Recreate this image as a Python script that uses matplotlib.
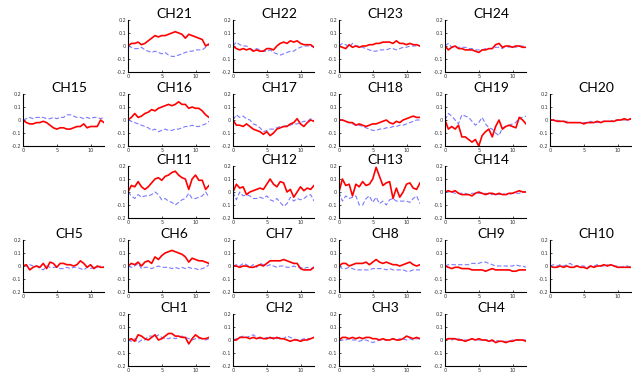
import numpy as np
import matplotlib
matplotlib.use("Agg")
import matplotlib.pyplot as plt

# ============================================ DATA ============================================
t = np.arange(0, 12.01, 0.5)  # cas [s], 25 vzorku

ch21_red = [0, 0.02, 0.02, 0.03, 0.01, 0.02, 0.04, 0.06, 0.08, 0.07, 0.08, 0.08, 0.09, 0.10, 0.11, 0.10, 0.09, 0.06, 0.09, 0.08, 0.07, 0.06, 0.05, 0.0, 0.015]
ch21_blue = [0, -0.01, -0.02, -0.02, -0.01, -0.03, -0.04, -0.05, -0.04, -0.05, -0.06, -0.05, -0.07, -0.08, -0.08, -0.07, -0.06, -0.05, -0.04, -0.04, -0.03, -0.03, -0.03, -0.01, 0.01]
ch22_red = [0, -0.02, -0.03, -0.02, -0.03, -0.02, -0.04, -0.03, -0.04, -0.04, -0.02, -0.02, -0.03, 0.0, 0.02, 0.03, 0.02, 0.04, 0.03, 0.04, 0.02, 0.01, 0.01, 0.01, -0.01]
ch22_blue = [0, 0.03, 0.01, 0.0, 0.0, -0.02, -0.03, -0.02, -0.03, -0.04, -0.04, -0.03, -0.05, -0.06, -0.07, -0.06, -0.05, -0.04, -0.04, -0.02, -0.01, 0.0, 0.0, 0.0, -0.01]
ch23_red = [0, -0.01, -0.02, 0.01, -0.01, 0.0, -0.01, 0.0, 0.0, 0.01, 0.01, 0.02, 0.02, 0.03, 0.03, 0.03, 0.02, 0.04, 0.02, 0.02, 0.01, 0.02, 0.01, 0.01, 0.0]
ch23_blue = [0, 0.02, 0.01, -0.01, 0.02, 0.0, 0.0, -0.01, -0.02, -0.03, -0.04, -0.04, -0.03, -0.03, -0.03, -0.02, -0.02, -0.03, -0.02, -0.01, -0.01, 0.0, 0.0, 0.0, 0.0]
ch24_red = [0, -0.03, -0.01, 0.0, -0.02, -0.02, -0.03, -0.03, -0.03, -0.04, -0.05, -0.03, -0.03, -0.02, -0.02, 0.01, 0.02, -0.01, 0.0, 0.0, -0.01, 0.0, 0.0, -0.01, -0.01]
ch24_blue = [0, 0.02, -0.01, -0.01, -0.01, -0.01, -0.01, -0.02, -0.02, -0.03, -0.03, -0.03, -0.02, -0.02, -0.02, -0.01, -0.01, -0.02, 0.0, -0.01, 0.0, -0.01, 0.0, 0.0, 0.0]

ch15_red = [0, -0.02, -0.03, -0.03, -0.02, -0.02, -0.01, -0.02, -0.04, -0.06, -0.07, -0.06, -0.06, -0.07, -0.07, -0.06, -0.05, -0.05, -0.03, -0.06, -0.05, -0.05, -0.05, 0.0, -0.02]
ch15_blue = [0, 0.01, 0.02, 0.01, 0.02, 0.02, 0.02, 0.01, 0.01, 0.02, 0.01, 0.02, 0.02, 0.04, 0.04, 0.03, 0.02, 0.02, 0.01, 0.02, 0.01, 0.02, 0.02, 0.01, 0.02]
ch16_red = [0, 0.02, 0.05, 0.02, 0.03, 0.05, 0.06, 0.08, 0.07, 0.09, 0.10, 0.11, 0.12, 0.11, 0.12, 0.14, 0.12, 0.12, 0.09, 0.10, 0.09, 0.09, 0.07, 0.04, 0.02]
ch16_blue = [0, -0.01, -0.02, -0.03, -0.04, -0.05, -0.06, -0.08, -0.07, -0.09, -0.08, -0.07, -0.08, -0.08, -0.07, -0.07, -0.06, -0.05, -0.05, -0.04, -0.05, -0.05, -0.04, -0.03, -0.01]
ch17_red = [0, -0.04, -0.04, -0.05, -0.03, -0.05, -0.07, -0.08, -0.09, -0.11, -0.09, -0.12, -0.10, -0.07, -0.06, -0.05, -0.05, -0.03, -0.02, 0.01, -0.03, -0.05, -0.02, 0.0, -0.01]
ch17_blue = [0, 0.04, 0.02, 0.03, 0.01, 0.0, -0.03, -0.04, -0.06, -0.09, -0.08, -0.07, -0.07, -0.06, -0.05, -0.05, -0.04, -0.04, -0.03, -0.03, -0.02, -0.01, -0.01, 0.01, -0.01]
ch18_red = [0, 0.0, -0.01, -0.02, -0.02, -0.04, -0.03, -0.04, -0.05, -0.04, -0.03, -0.03, -0.02, -0.01, 0.0, -0.02, -0.03, -0.01, -0.02, 0.0, 0.01, 0.02, 0.03, 0.02, 0.02]
ch18_blue = [0, 0.0, -0.01, -0.02, -0.03, -0.04, -0.04, -0.05, -0.06, -0.07, -0.08, -0.08, -0.07, -0.07, -0.06, -0.06, -0.05, -0.05, -0.04, -0.04, -0.03, -0.02, -0.01, 0.0, 0.0]
ch19_red = [0, -0.07, -0.05, -0.07, -0.04, -0.13, -0.13, -0.15, -0.17, -0.15, -0.20, -0.12, -0.09, -0.07, -0.13, -0.05, 0.0, -0.07, -0.05, -0.04, -0.05, -0.06, 0.02, 0.0, -0.03]
ch19_blue = [0, 0.05, 0.03, 0.0, -0.03, 0.04, 0.03, 0.02, -0.01, -0.04, -0.02, 0.02, -0.03, -0.06, -0.07, -0.10, -0.12, -0.06, -0.05, -0.04, -0.03, -0.02, 0.02, 0.02, 0.03]
ch20_red = [0, 0.0, -0.01, -0.01, -0.01, -0.02, -0.02, -0.02, -0.02, -0.02, -0.03, -0.02, -0.02, -0.02, -0.01, -0.02, -0.01, -0.01, -0.01, -0.01, 0.0, 0.0, 0.01, 0.0, 0.01]
ch20_blue = [0, 0.0, 0.0, -0.01, -0.01, -0.01, -0.02, -0.02, -0.02, -0.02, -0.02, -0.02, -0.01, -0.02, -0.02, -0.01, -0.01, -0.01, -0.01, 0.0, 0.0, 0.0, 0.0, 0.0, 0.01]

ch11_red = [0, 0.05, 0.04, 0.08, 0.04, 0.02, 0.04, 0.07, 0.10, 0.11, 0.09, 0.12, 0.13, 0.15, 0.16, 0.13, 0.11, 0.10, 0.02, 0.10, 0.13, 0.09, 0.09, 0.02, 0.05]
ch11_blue = [0, -0.03, -0.05, -0.02, -0.04, -0.03, -0.03, -0.02, 0.0, -0.02, -0.06, -0.05, -0.07, -0.08, -0.10, -0.08, -0.06, -0.05, -0.01, -0.05, -0.05, -0.04, -0.03, 0.0, -0.04]
ch12_red = [0, 0.06, 0.03, 0.04, -0.02, 0.0, 0.01, 0.02, 0.03, 0.02, 0.06, 0.10, 0.06, 0.04, 0.08, 0.07, 0.0, 0.02, -0.04, 0.0, 0.04, 0.01, 0.03, 0.02, 0.05]
ch12_blue = [0, -0.06, 0.0, -0.03, -0.02, -0.03, -0.05, -0.05, -0.04, -0.05, -0.03, -0.06, -0.07, -0.05, -0.08, -0.11, -0.09, -0.04, -0.07, -0.05, -0.06, -0.05, -0.03, -0.02, -0.07]
ch13_red = [0, 0.10, 0.05, 0.06, -0.03, 0.06, 0.04, 0.08, 0.05, 0.06, 0.10, 0.19, 0.12, 0.05, 0.07, 0.08, -0.05, 0.03, -0.04, 0.0, 0.06, 0.07, 0.03, 0.02, 0.07]
ch13_blue = [0, -0.07, -0.03, -0.05, -0.04, -0.03, -0.10, -0.10, -0.05, -0.03, -0.08, -0.04, -0.09, -0.07, -0.10, -0.06, -0.05, -0.07, -0.07, -0.07, -0.07, -0.08, -0.05, -0.03, -0.09]
ch14_red = [0, 0.01, 0.0, 0.01, -0.01, -0.02, -0.02, -0.02, -0.03, -0.01, 0.0, -0.01, -0.02, -0.01, -0.01, -0.02, -0.01, -0.02, -0.02, -0.01, -0.01, 0.0, 0.01, 0.0, 0.0]
ch14_blue = [0, 0.0, 0.0, -0.01, -0.01, -0.01, -0.01, -0.02, -0.01, -0.01, -0.01, -0.01, -0.01, -0.02, -0.02, -0.01, -0.02, -0.01, -0.02, -0.02, -0.01, -0.01, -0.01, 0.0, 0.0]

ch5_red = [0, 0.01, -0.03, -0.01, 0.0, -0.01, 0.02, -0.02, 0.03, 0.02, -0.01, 0.02, 0.02, 0.01, 0.01, 0.0, 0.01, 0.04, 0.02, -0.01, 0.01, -0.02, 0.0, -0.01, -0.01]
ch5_blue = [0, 0.0, 0.01, 0.0, 0.0, -0.02, -0.03, 0.0, -0.01, -0.01, -0.01, -0.02, -0.02, -0.01, -0.02, -0.01, -0.01, -0.02, -0.03, -0.01, -0.02, -0.01, -0.01, 0.0, -0.01]
ch6_red = [0, 0.02, 0.01, 0.03, 0.0, 0.03, 0.04, 0.02, 0.07, 0.05, 0.08, 0.10, 0.11, 0.12, 0.11, 0.10, 0.09, 0.07, 0.03, 0.06, 0.05, 0.04, 0.04, 0.03, 0.02]
ch6_blue = [0, -0.01, 0.0, 0.02, -0.02, -0.01, -0.01, -0.02, -0.01, 0.0, -0.01, -0.01, -0.01, -0.02, -0.01, -0.02, -0.01, -0.02, -0.01, -0.02, -0.02, -0.03, -0.02, -0.01, 0.01]
ch7_red = [0, 0.0, -0.01, 0.0, 0.0, -0.01, -0.01, 0.0, 0.01, 0.0, 0.02, 0.04, 0.04, 0.04, 0.04, 0.05, 0.04, 0.03, 0.02, 0.02, -0.02, -0.03, -0.03, -0.03, -0.01]
ch7_blue = [0, 0.01, 0.0, 0.02, 0.01, -0.01, 0.01, -0.01, 0.02, 0.01, 0.0, 0.01, 0.0, -0.01, 0.0, 0.0, -0.01, -0.01, 0.0, -0.01, -0.01, -0.02, -0.01, -0.02, -0.01]
ch8_red = [0, 0.02, 0.02, 0.0, 0.01, 0.02, 0.02, 0.02, 0.03, 0.01, 0.03, 0.05, 0.03, 0.02, 0.03, 0.02, 0.01, 0.01, 0.0, 0.01, 0.02, 0.03, 0.01, 0.0, 0.01]
ch8_blue = [0, -0.02, -0.02, -0.01, -0.02, -0.03, -0.03, -0.03, -0.03, -0.03, -0.02, -0.02, -0.02, -0.02, -0.03, -0.02, -0.03, -0.03, -0.03, -0.03, -0.04, -0.04, -0.03, -0.03, -0.03]
ch9_red = [0, -0.01, -0.02, -0.01, -0.01, -0.02, -0.02, -0.02, -0.03, -0.03, -0.03, -0.03, -0.04, -0.03, -0.02, -0.03, -0.03, -0.03, -0.03, -0.03, -0.04, -0.04, -0.03, -0.03, -0.03]
ch9_blue = [0, 0.01, 0.01, 0.01, 0.01, 0.01, 0.01, 0.01, 0.02, 0.02, 0.02, 0.03, 0.03, 0.02, 0.01, 0.0, 0.0, 0.0, 0.0, 0.0, 0.0, 0.01, 0.0, 0.0, -0.01]
ch10_red = [0, -0.01, -0.01, 0.0, -0.01, 0.0, -0.01, -0.01, 0.0, -0.01, -0.01, -0.02, 0.0, -0.01, 0.0, 0.0, 0.01, 0.0, 0.01, 0.0, -0.01, -0.01, -0.01, -0.01, -0.01]
ch10_blue = [0, 0.01, 0.0, 0.01, 0.0, 0.01, 0.02, 0.0, 0.0, 0.0, 0.0, -0.01, 0.0, 0.0, 0.01, 0.0, 0.0, 0.01, 0.0, 0.0, 0.0, -0.01, 0.0, 0.0, -0.01]

ch1_red = [0, 0.01, -0.01, 0.04, 0.03, 0.01, 0.0, 0.02, 0.04, 0.0, 0.01, 0.03, 0.05, 0.05, 0.03, 0.03, 0.02, 0.02, -0.03, 0.01, 0.04, 0.02, 0.01, 0.01, 0.02]
ch1_blue = [0, -0.01, 0.01, -0.02, 0.0, 0.0, 0.03, 0.03, 0.02, 0.04, 0.02, 0.01, 0.01, 0.02, 0.01, 0.02, 0.03, 0.02, 0.01, 0.0, 0.01, 0.01, 0.01, 0.0, 0.01]
ch2_red = [0, 0.0, 0.02, 0.02, 0.02, 0.01, 0.02, 0.01, 0.02, 0.01, 0.01, 0.02, 0.01, 0.02, 0.01, 0.01, 0.0, -0.01, 0.0, 0.0, -0.01, 0.0, 0.0, 0.01, 0.02]
ch2_blue = [0, 0.01, 0.02, 0.03, 0.02, 0.03, 0.04, 0.02, 0.01, 0.01, 0.02, 0.01, 0.02, 0.01, 0.02, 0.01, 0.03, 0.02, 0.01, 0.0, 0.0, 0.01, 0.01, 0.01, 0.02]
ch3_red = [0, 0.02, 0.02, 0.01, 0.02, 0.01, 0.02, 0.01, 0.02, 0.02, 0.01, 0.01, 0.0, 0.01, 0.0, 0.0, 0.01, 0.0, 0.0, 0.01, 0.03, 0.02, 0.01, 0.02, 0.01]
ch3_blue = [0, 0.0, 0.0, 0.01, 0.0, 0.0, -0.01, 0.0, 0.0, -0.01, -0.02, -0.01, 0.0, 0.0, 0.0, 0.0, 0.01, 0.0, 0.01, 0.01, 0.0, 0.01, 0.0, 0.01, 0.01]
ch4_red = [0, 0.01, 0.01, 0.01, 0.0, 0.0, -0.01, 0.0, 0.01, 0.0, 0.01, 0.0, 0.0, -0.01, 0.0, -0.02, -0.01, -0.01, -0.02, -0.01, -0.01, 0.0, 0.0, 0.0, -0.01]
ch4_blue = [0, 0.01, 0.0, 0.01, 0.01, 0.0, 0.0, 0.0, 0.01, 0.0, 0.0, 0.0, 0.0, 0.0, -0.01, 0.0, -0.01, -0.01, -0.01, -0.01, 0.0, 0.0, 0.0, 0.0, 0.0]

# rozlozeni kanalu: (nazev, cervena, modra, radek, sloupec)
panels = [
    ("CH21", ch21_red, ch21_blue, 0, 1), ("CH22", ch22_red, ch22_blue, 0, 2),
    ("CH23", ch23_red, ch23_blue, 0, 3), ("CH24", ch24_red, ch24_blue, 0, 4),
    ("CH15", ch15_red, ch15_blue, 1, 0), ("CH16", ch16_red, ch16_blue, 1, 1),
    ("CH17", ch17_red, ch17_blue, 1, 2), ("CH18", ch18_red, ch18_blue, 1, 3),
    ("CH19", ch19_red, ch19_blue, 1, 4), ("CH20", ch20_red, ch20_blue, 1, 5),
    ("CH11", ch11_red, ch11_blue, 2, 1), ("CH12", ch12_red, ch12_blue, 2, 2),
    ("CH13", ch13_red, ch13_blue, 2, 3), ("CH14", ch14_red, ch14_blue, 2, 4),
    ("CH5", ch5_red, ch5_blue, 3, 0), ("CH6", ch6_red, ch6_blue, 3, 1),
    ("CH7", ch7_red, ch7_blue, 3, 2), ("CH8", ch8_red, ch8_blue, 3, 3),
    ("CH9", ch9_red, ch9_blue, 3, 4), ("CH10", ch10_red, ch10_blue, 3, 5),
    ("CH1", ch1_red, ch1_blue, 4, 1), ("CH2", ch2_red, ch2_blue, 4, 2),
    ("CH3", ch3_red, ch3_blue, 4, 3), ("CH4", ch4_red, ch4_blue, 4, 4),
]

# ============================================ GRAF ============================================
W, H = 632, 375
col_left = [23, 128, 233, 339, 445, 550]  # px
row_top = [20, 94, 166, 240, 314]         # px
ax_w, ax_h = 81, 52

fig = plt.figure(figsize=(W / 100, H / 100), dpi=100)

for name, red, blue, r, c in panels:
    ax = fig.add_axes([col_left[c] / W, 1 - (row_top[r] + ax_h) / H, ax_w / W, ax_h / H])
    ax.plot(t, blue, color="#7a7aff", lw=0.8, ls=(0, (4, 2)))
    ax.plot(t, red, color="#ff0000", lw=1.2)
    ax.set_xlim(0, 12)
    ax.set_ylim(-0.2, 0.2)
    ax.set_xticks([0, 5, 10])
    ax.set_yticks([-0.2, -0.1, 0, 0.1, 0.2])
    ax.set_yticklabels(["-0.2", "-0.1", "0", "0.1", "0.2"])
    ax.tick_params(direction="in", length=1.5, width=0.5, labelsize=3.5,
                   labelcolor="#333333", pad=1.5)
    for s in ["top", "right"]:
        ax.spines[s].set_visible(False)
    for s in ["left", "bottom"]:
        ax.spines[s].set_linewidth(0.8)
    ax.set_title(name, fontsize=10, family=["Lato", "DejaVu Sans"], x=0.57, pad=1)

fig.savefig("out.png", dpi=100)
